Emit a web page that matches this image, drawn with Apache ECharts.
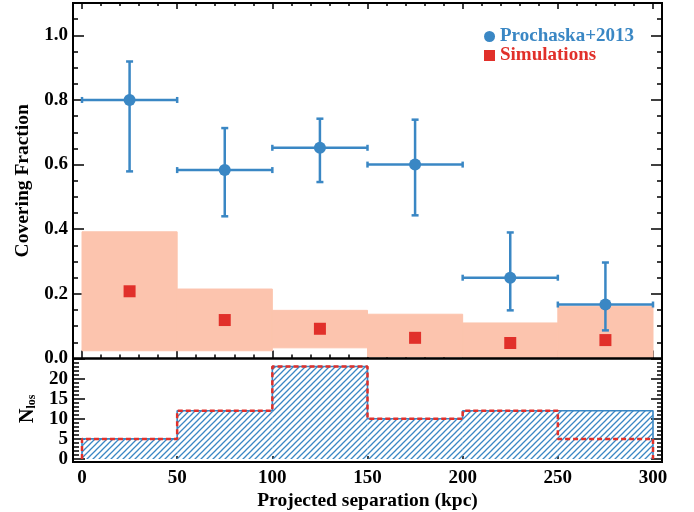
<!DOCTYPE html>
<html>
<head>
<meta charset="utf-8">
<script src="https://cdn.jsdelivr.net/npm/echarts@6/dist/echarts.min.js"></script>
<style>
  html, body { margin: 0; padding: 0; background: #fff; }
  #chart { width: 694px; height: 512px; }
</style>
</head>
<body>
<div id="chart"></div>
<script>
// bins (kpc)
var binEdges = [0, 50, 100, 150, 200, 250, 300];
var binCenters = [25, 75, 125, 175, 225, 275];
// Prochaska+2013 covering fraction with errors
var obsFrac = [0.8, 0.583, 0.652, 0.6, 0.25, 0.167];
var obsLow = [0.579, 0.44, 0.546, 0.443, 0.149, 0.087];
var obsHigh = [0.919, 0.713, 0.742, 0.739, 0.39, 0.297];
// simulations: median and range
var simFrac = [0.208, 0.119, 0.092, 0.064, 0.048, 0.057];
var simLow = [0.024, 0.024, 0.033, 0.005, 0.003, 0.003];
var simHigh = [0.392, 0.215, 0.149, 0.137, 0.110, 0.162];
// number of sightlines per bin
var nObs = [5, 12, 23, 10, 12, 12];
var nSim = [5, 12, 23, 10, 12, 5];

var blue = "#3A87C4";
var red = "#E1302A";
var salmon = "#FCC4AE";
var font = "'Liberation Serif', 'DejaVu Serif', serif";

// hatch pattern for the histogram
var hatch = document.createElement("canvas");
hatch.width = 6;
hatch.height = 6;
var hc = hatch.getContext("2d");
hc.strokeStyle = blue;
hc.lineWidth = 1.3;
hc.beginPath();
hc.moveTo(-1, 7); hc.lineTo(7, -1);
hc.moveTo(-1, 1); hc.lineTo(1, -1);
hc.moveTo(5, 7); hc.lineTo(7, 5);
hc.stroke();

var bandData = [], obsData = [], simData = [], hatchData = [];
for (var i = 0; i < binCenters.length; i++) {
  bandData.push([binEdges[i], binEdges[i + 1], simLow[i], simHigh[i]]);
  obsData.push([binCenters[i], obsFrac[i], obsLow[i], obsHigh[i], (binEdges[i + 1] - binEdges[i]) / 2]);
  simData.push([binCenters[i], simFrac[i]]);
  hatchData.push([binEdges[i], binEdges[i + 1], nObs[i]]);
}
function stepLine(counts) {
  var pts = [[binEdges[0], 0]];
  for (var i = 0; i < counts.length; i++) pts.push([binEdges[i], counts[i]]);
  pts.push([binEdges[binEdges.length - 1], counts[counts.length - 1]]);
  pts.push([binEdges[binEdges.length - 1], 0]);
  return pts;
}

function xAx(grid, pos, major, minor, showLabel) {
  return {
    type: "value", gridIndex: grid, position: pos, min: 0, max: 300, interval: 50,
    axisLine: { show: false, onZero: false },
    axisTick: { show: true, inside: true, length: major, lineStyle: { color: "#000", width: 1.5 } },
    minorTick: { show: minor > 0, splitNumber: 5, length: minor, lineStyle: { color: "#000", width: 1.5 } },
    axisLabel: { show: showLabel, color: "#000", fontFamily: font, fontWeight: "bold", fontSize: 19, margin: 10 },
    splitLine: { show: false }
  };
}
function yAx(grid, pos, max, interval, split, showLabel, fmt) {
  return {
    type: "value", gridIndex: grid, position: pos, offset: 9, min: 0, max: max, interval: interval,
    axisLine: { show: false, onZero: false },
    axisTick: { show: true, inside: true, length: 11, lineStyle: { color: "#000", width: 1.5 } },
    minorTick: { show: true, splitNumber: split, length: 5, lineStyle: { color: "#000", width: 1.5 } },
    axisLabel: { show: showLabel, showMaxLabel: false, color: "#000", fontFamily: font, fontWeight: "bold", fontSize: 19, margin: 5, formatter: fmt },
    splitLine: { show: false }
  };
}

var chart = echarts.init(document.getElementById("chart"));

var xTop = xAx(0, "bottom", 8, 4, false);
var xTop2 = xAx(0, "top", 6, 3, false);
var xBot = xAx(1, "bottom", 3, 0, true);
xBot.name = "Projected separation (kpc)";
xBot.nameLocation = "middle";
xBot.nameGap = 32;
xBot.nameTextStyle = { color: "#000", fontFamily: font, fontWeight: "bold", fontSize: 19.5 };

var yTop = yAx(0, "left", 1.1, 0.2, 4, true, function (v) { return v.toFixed(1); });
yTop.name = "Covering Fraction";
yTop.nameLocation = "middle";
yTop.nameGap = 39;
yTop.nameTextStyle = { color: "#000", fontFamily: font, fontWeight: "bold", fontSize: 19.5 };
var yTop2 = yAx(0, "right", 1.1, 0.2, 4, false);
var yBot = yAx(1, "left", 25, 5, 5, true);
yBot.axisTick.length = 12;
yBot.minorTick.length = 6;
yBot.name = "{n|N}{s|los}";
yBot.nameLocation = "middle";
yBot.nameGap = 34;
yBot.nameTextStyle = {
  color: "#000", fontFamily: font, fontWeight: "bold",
  rich: {
    n: { fontFamily: font, fontWeight: "bold", fontSize: 20, color: "#000" },
    s: { fontFamily: font, fontWeight: "bold", fontSize: 12, color: "#000", padding: [8, 0, 0, 0] }
  }
};
var yBot2 = yAx(1, "right", 25, 5, 5, false);

var option = {
  animation: false,
  grid: [
    { left: 82, width: 571, top: 3, height: 355.5 },
    { left: 82, width: 571, top: 358.5, height: 103.5 },
    { left: 73, width: 589, top: 3, height: 355.5, show: true, borderColor: "#000", borderWidth: 2, z: 10 },
    { left: 73, width: 589, top: 358.5, height: 103.5, show: true, borderColor: "#000", borderWidth: 2, z: 10 }
  ],
  xAxis: [xTop, xTop2, xBot,
    { type: "value", gridIndex: 2, show: false }, { type: "value", gridIndex: 3, show: false }],
  yAxis: [yTop, yTop2, yBot, yBot2,
    { type: "value", gridIndex: 2, show: false }, { type: "value", gridIndex: 3, show: false }],
  legend: {
    right: 55, top: 22, orient: "vertical", itemGap: 0, itemWidth: 11, itemHeight: 11,
    textStyle: { fontFamily: font, fontWeight: "bold", fontSize: 19 },
    data: [
      { name: "Prochaska+2013", icon: "circle", textStyle: { color: blue } },
      { name: "Simulations", icon: "rect", textStyle: { color: red } }
    ]
  },
  series: [
    {
      name: "Simulation range", type: "custom", xAxisIndex: 0, yAxisIndex: 0, data: bandData, z: 1,
      renderItem: function (params, api) {
        var p0 = api.coord([api.value(0), api.value(3)]);
        var p1 = api.coord([api.value(1), api.value(2)]);
        return { type: "rect", shape: { x: p0[0], y: p0[1], width: p1[0] - p0[0], height: p1[1] - p0[1] }, style: { fill: salmon, stroke: salmon, lineWidth: 1 } };
      }
    },
    {
      name: "Simulations", type: "scatter", xAxisIndex: 0, yAxisIndex: 0, data: simData,
      symbol: "rect", symbolSize: 12, itemStyle: { color: red, opacity: 1 }, z: 3
    },
    {
      name: "Prochaska errors", type: "custom", xAxisIndex: 0, yAxisIndex: 0, data: obsData, z: 4,
      renderItem: function (params, api) {
        var x = api.value(0), y = api.value(1), hw = api.value(4);
        var c = api.coord([x, y]);
        var l = api.coord([x - hw, y]);
        var r = api.coord([x + hw, y]);
        var t = api.coord([x, api.value(3)]);
        var b = api.coord([x, api.value(2)]);
        var st = { stroke: blue, lineWidth: 2.5 };
        function ln(x1, y1, x2, y2) { return { type: "line", shape: { x1: x1, y1: y1, x2: x2, y2: y2 }, style: st }; }
        return {
          type: "group", children: [
            ln(l[0], c[1], r[0], c[1]),
            ln(c[0], t[1], c[0], b[1]),
            ln(l[0], c[1] - 3, l[0], c[1] + 3),
            ln(r[0], c[1] - 3, r[0], c[1] + 3),
            ln(c[0] - 3.5, t[1], c[0] + 3.5, t[1]),
            ln(c[0] - 3.5, b[1], c[0] + 3.5, b[1])
          ]
        };
      }
    },
    {
      name: "Prochaska+2013", type: "scatter", xAxisIndex: 0, yAxisIndex: 0,
      data: binCenters.map(function (x, i) { return [x, obsFrac[i]]; }),
      symbol: "circle", symbolSize: 12, itemStyle: { color: blue, opacity: 1 }, z: 5
    },
    {
      name: "N hatch", type: "custom", xAxisIndex: 2, yAxisIndex: 2, data: hatchData, z: 1,
      renderItem: function (params, api) {
        var p0 = api.coord([api.value(0), api.value(2)]);
        var p1 = api.coord([api.value(1), 0]);
        return { type: "rect", shape: { x: p0[0], y: p0[1], width: p1[0] - p0[0], height: p1[1] - p0[1] }, style: { fill: { image: hatch, repeat: "repeat" } } };
      }
    },
    {
      name: "N obs", type: "line", xAxisIndex: 2, yAxisIndex: 2, data: stepLine(nObs), step: "end",
      showSymbol: false, symbol: "none", lineStyle: { color: blue, width: 1.6 }, z: 2
    },
    {
      name: "N sim", type: "line", xAxisIndex: 2, yAxisIndex: 2, data: stepLine(nSim), step: "end",
      showSymbol: false, symbol: "none", lineStyle: { color: red, width: 2.5, type: [5, 3] }, z: 3
    }
  ]
};

chart.setOption(option);
window.addEventListener("resize", function () {
  chart.resize();
});
</script>
</body>
</html>
